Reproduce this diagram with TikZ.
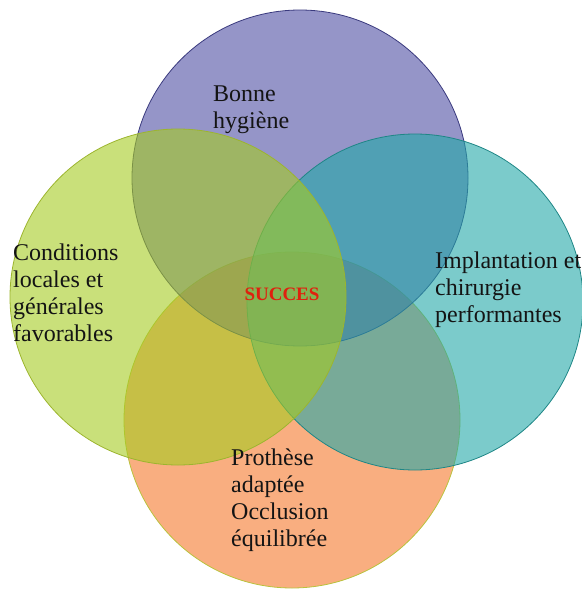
\documentclass[tikz,border=0pt]{standalone}
\usepackage{fontspec}
\setmainfont{Liberation Serif}
\newfontfamily\vnserif{Liberation Serif}
\usetikzlibrary{positioning}
\definecolor{vnPurple}{HTML}{4E4EA3}
\definecolor{vnPurpleLine}{HTML}{3A3A7E}
\definecolor{vnGreen}{HTML}{A5CB21}
\definecolor{vnGreenLine}{HTML}{9CB52E}
\definecolor{vnTeal}{HTML}{23A8A8}
\definecolor{vnTealLine}{HTML}{1E8686}
\definecolor{vnOrange}{HTML}{F5782B}
\definecolor{vnOrangeLine}{HTML}{B9C23C}
\definecolor{vnText}{HTML}{141414}
\definecolor{vnRed}{HTML}{E0200E}
\tikzset{
  petal/.style   = {circle, minimum size=336pt, inner sep=0pt,
                    fill opacity=0.6, line width=0.8pt},
  petalP/.style  = {petal, fill=vnPurple, draw=vnPurpleLine},
  petalG/.style  = {petal, fill=vnGreen,  draw=vnGreenLine},
  petalT/.style  = {petal, fill=vnTeal,   draw=vnTealLine},
  petalO/.style  = {petal, fill=vnOrange, draw=vnOrangeLine},
  lbl/.style     = {anchor=base west, align=left, inner sep=0pt, vnText,
                    font=\vnserif\fontsize{24}{27}\selectfont},
  core/.style    = {inner sep=0pt, vnRed,
                    font=\vnserif\fontsize{19}{22}\selectfont\bfseries},
}

\begin{document}
\begin{tikzpicture}[x=1pt,y=-1pt]
  \useasboundingbox (0,0) rectangle (581,594);
  % circles, back to front
  \node[petalO] (prothese) at (292,420) {};
  \node[petalP] (hygiene)  at (300,178) {};
  \node[petalT] (implant)  at (415,302) {};
  \node[petalG] (cond)     at (178,297) {};
  % labels (anchored on the last line)
  \node[lbl] (lblHyg)  at (213,128) {Bonne\\hygiène};
  \node[lbl] (lblCond) at (13,341)  {Conditions\\locales et\\générales\\favorables};
  \node[lbl] (lblImpl) at (435,322) {Implantation et\\chirurgie\\performantes};
  \node[lbl] (lblProt) at (231,546) {Prothèse\\adaptée\\Occlusion\\équilibrée};
  \node[core, anchor=base] (succes) at (282,300) {SUCCES};
\end{tikzpicture}
\end{document}
